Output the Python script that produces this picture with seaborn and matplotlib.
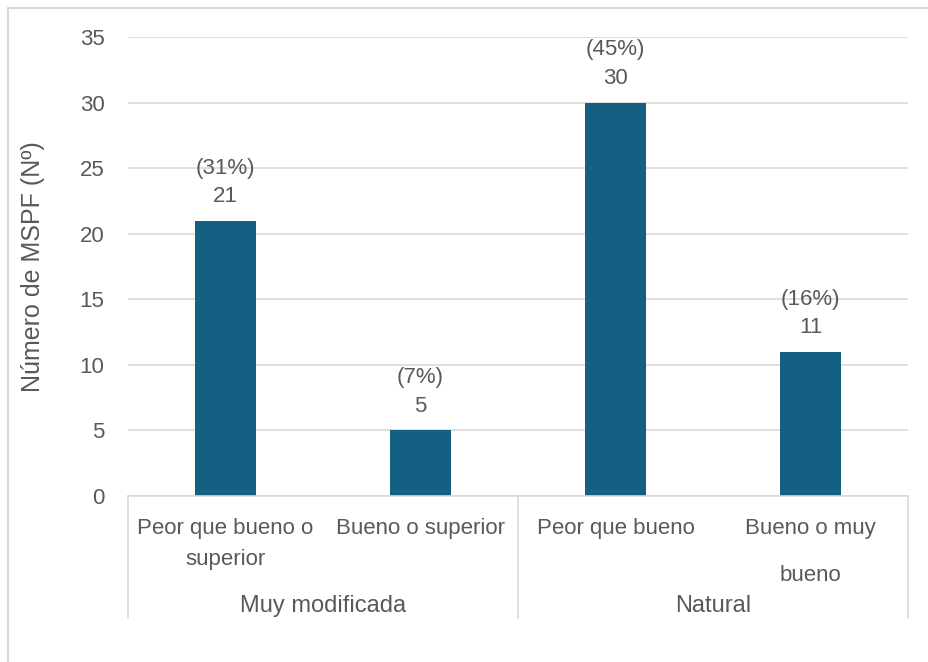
import matplotlib
matplotlib.use("Agg")
import matplotlib.pyplot as plt
import matplotlib.transforms as mtransforms
import pandas as pd
import seaborn as sns

# datos del gráfico
categorias = ["Peor que bueno o\nsuperior", "Bueno o superior", "Peor que bueno", "Bueno o muy\nbueno"]
grupos = ["Muy modificada", "Muy modificada", "Natural", "Natural"]
valores = [21, 5, 30, 11]
porcentajes = ["(31%)", "(7%)", "(45%)", "(16%)"]
nombres_grupo = ["Muy modificada", "Natural"]

COLOR_BARRA = "#156082"
COLOR_TEXTO = "#595959"
COLOR_LINEA = "#D9D9D9"

df = pd.DataFrame({"categoria": categorias, "grupo": grupos, "n": valores})

sns.set_style("white")
plt.rcParams["font.family"] = ["Liberation Sans", "DejaVu Sans"]

fig = plt.figure(figsize=(9.29, 6.62), dpi=100)
ax = fig.add_axes([128 / 929, 166 / 662, 780 / 929, 459 / 662])

sns.barplot(data=df, x="categoria", y="n", color=COLOR_BARRA, width=0.31,
            saturation=1, linewidth=0, ax=ax)

ax.set_ylim(0, 35)
ax.set_xlim(-0.5, len(categorias) - 0.5)
ax.set_yticks(range(0, 36, 5))
ax.yaxis.grid(True, color=COLOR_LINEA, linewidth=1.2)
ax.set_axisbelow(True)
for s in ["top", "right", "left"]:
    ax.spines[s].set_visible(False)
ax.spines["bottom"].set_color(COLOR_LINEA)
ax.spines["bottom"].set_linewidth(1.2)
ax.tick_params(axis="both", length=0, labelsize=16, colors=COLOR_TEXTO)
ax.tick_params(axis="y", pad=17)
ax.tick_params(axis="x", pad=16)
ax.set_xlabel("")
ax.set_ylabel("Número de MSPF (Nº)", fontsize=18, color=COLOR_TEXTO, labelpad=25)

# etiquetas de categoría (la última con más interlineado)
for i, lab in enumerate(ax.get_xticklabels()):
    lab.set_linespacing(1.6 if i < 3 else 2.6)
    lab.set_verticalalignment("top")

# etiquetas sobre las barras
for i, (v, p) in enumerate(zip(valores, porcentajes)):
    ax.annotate(f"{p}\n{v}", (i, v), xytext=(0, 10), textcoords="offset points",
                ha="center", va="bottom", fontsize=16, color=COLOR_TEXTO,
                linespacing=1.45)

# eje de grupos
trans = mtransforms.blended_transform_factory(ax.transData, ax.transAxes)
for xb in [-0.5, 1.5, 3.5]:
    ax.plot([xb, xb], [0, -122 / 459], transform=trans, color=COLOR_LINEA,
            linewidth=1.2, clip_on=False)
for j, g in enumerate(nombres_grupo):
    ax.text(0.5 + 2 * j, -110 / 459, g, transform=trans, ha="center", va="center",
            fontsize=17, color=COLOR_TEXTO)

# borde exterior del gráfico
fig.add_artist(plt.Line2D([8 / 929, 8 / 929], [0, 654 / 662], transform=fig.transFigure,
                          color=COLOR_LINEA, linewidth=1.5))
fig.add_artist(plt.Line2D([8 / 929, 1], [654 / 662, 654 / 662], transform=fig.transFigure,
                          color=COLOR_LINEA, linewidth=1.5))

fig.savefig("out.png", dpi=100)
